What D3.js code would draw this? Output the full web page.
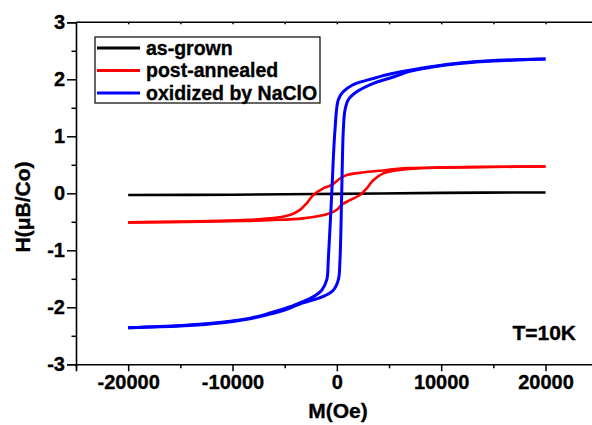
<!DOCTYPE html>
<html>
<head>
<meta charset="utf-8">
<script src="https://cdn.jsdelivr.net/npm/d3@7/dist/d3.min.js"></script>
<style>
  html, body { margin: 0; padding: 0; background: #fff; }
  text { font-family: "Liberation Sans", Arial, sans-serif; font-weight: bold; stroke: #000; stroke-width: 0.35px; }
</style>
</head>
<body>
<script>
var width = 592, height = 425;

// field (Oe) and moment values
var blackField = [-20000, -10000, 0, 10000, 20000];
var blackVal   = [-0.03, -0.025, -0.01, 0.008, 0.015];

var redDownField = [20000, 15000, 10000, 7000, 6050, 4130, 2220, 945, 300, -490, -1300, -2255, -2890, -3530, -4490, -6400, -9000, -13000, -20000];
var redDownVal   = [0.47, 0.465, 0.455, 0.445, 0.436, 0.395, 0.36, 0.32, 0.26, 0.146, 0.088, -0.03, -0.175, -0.29, -0.38, -0.44, -0.47, -0.49, -0.51];
var redUpField = [-20000, -13000, -9000, -6400, -3240, -656, 0, 465, 1260, 2220, 2860, 3490, 4450, 6050, 8000, 10000, 15000, 20000];
var redUpVal   = [-0.51, -0.5, -0.485, -0.47, -0.44, -0.35, -0.29, -0.2, -0.12, -0.03, 0.088, 0.23, 0.35, 0.41, 0.44, 0.45, 0.462, 0.47];

var blueDownField = [20000, 15000, 12000, 9000, 7000, 5000, 3000, 1500, 600, 140, -180, -490, -820, -970, -1450, -2500, -4500, -6400, -8300, -12000, -15000, -20000];
var blueDownVal   = [2.355, 2.33, 2.29, 2.22, 2.16, 2.09, 1.99, 1.90, 1.78, 1.64, 1.11, 0, -1.17, -1.52, -1.70, -1.84, -1.99, -2.10, -2.19, -2.28, -2.32, -2.36];
var blueUpField = [-20000, -15000, -12000, -8300, -6400, -5000, -3500, -1300, -340, 140, 300, 465, 620, 780, 1100, 1900, 3500, 5400, 7000, 9000, 12000, 15000, 20000];
var blueUpVal   = [-2.36, -2.33, -2.29, -2.20, -2.12, -2.05, -1.94, -1.81, -1.70, -1.52, -1.17, 0, 1.11, 1.46, 1.64, 1.78, 1.93, 2.04, 2.14, 2.21, 2.28, 2.32, 2.355];

var xTicks = [-20000, -10000, 0, 10000, 20000];
var yTicks = [-3, -2, -1, 0, 1, 2, 3];
var legendNames = ["as-grown", "post-annealed", "oxidized by NaClO"];
var colors = ["#000000", "#ff0000", "#0000ff"];

var svg = d3.select("body").append("svg")
  .attr("width", width)
  .attr("height", height);

var x = d3.scaleLinear().domain([-25000, 25000]).range([76, 597.7]);
var y = d3.scaleLinear().domain([-3, 3]).range([364.3, 22.3]);

var line = d3.line()
  .x(function(d) { return x(d[0]); })
  .y(function(d) { return y(d[1]); })
  .curve(d3.curveCatmullRom.alpha(0.5));

var zip = function(a, b) { return a.map(function(v, i) { return [v, b[i]]; }); };

var series = [
  { pts: zip(blackField, blackVal), c: colors[0], w: 2.6 },
  { pts: zip(redDownField, redDownVal), c: colors[1], w: 2.6 },
  { pts: zip(redUpField, redUpVal), c: colors[1], w: 2.6 },
  { pts: zip(blueDownField, blueDownVal), c: colors[2], w: 3 },
  { pts: zip(blueUpField, blueUpVal), c: colors[2], w: 3 }
];

svg.selectAll("path.curve").data(series).enter().append("path")
  .attr("class", "curve")
  .attr("d", function(d) { return line(d.pts); })
  .attr("fill", "none")
  .attr("stroke", function(d) { return d.c; })
  .attr("stroke-width", function(d) { return d.w; })
  .attr("stroke-linejoin", "round");

// plain hyphen for negatives, like the original
var fmt = function(d) { return String(d); };

// axes
var xAxis = svg.append("g").attr("transform", "translate(0," + y(-3) + ")")
  .call(d3.axisBottom(x).tickValues(xTicks).tickSize(7).tickFormat(fmt));
var xMinor = svg.append("g").attr("transform", "translate(0," + y(-3) + ")")
  .call(d3.axisBottom(x).tickValues([-25000, -15000, -5000, 5000, 15000]).tickSize(4).tickFormat(""));
var yAxis = svg.append("g").attr("transform", "translate(" + x(-25000) + ",0)")
  .call(d3.axisLeft(y).tickValues(yTicks).tickSize(9).tickFormat(fmt));
var yMinor = svg.append("g").attr("transform", "translate(" + x(-25000) + ",0)")
  .call(d3.axisLeft(y).tickValues([-2.5, -1.5, -0.5, 0.5, 1.5, 2.5]).tickSize(4.5).tickFormat(""));
var xTop = svg.append("g").attr("transform", "translate(0," + y(3) + ")")
  .call(d3.axisBottom(x).tickValues([-20000, -15000, -10000, -5000, 0, 5000, 10000, 15000, 20000]).tickSize(2).tickFormat(""));

[xAxis, xMinor, yAxis, yMinor, xTop].forEach(function(g) {
  g.select(".domain").attr("stroke-width", 1.6);
  g.selectAll(".tick line").attr("stroke-width", 1.5);
});
xMinor.select(".domain").remove();
yMinor.select(".domain").remove();
xTop.select(".domain").attr("d", "M" + x(-25000) + ",0H" + width);

xAxis.selectAll(".tick text")
  .attr("font-size", 20).attr("y", 11).attr("font-family", "Liberation Sans")
  .attr("font-weight", "bold").attr("fill", "#000");
yAxis.selectAll(".tick text")
  .attr("font-size", 20).attr("x", -11).attr("font-family", "Liberation Sans")
  .attr("font-weight", "bold").attr("fill", "#000");

svg.append("text")
  .attr("x", 338).attr("y", 418)
  .attr("text-anchor", "middle")
  .attr("font-size", 21)
  .text("M(Oe)");

svg.append("text")
  .attr("transform", "translate(30,207) rotate(-90)")
  .attr("text-anchor", "middle")
  .attr("font-size", 21)
  .text("H(\u03bcB/Co)");

svg.append("text")
  .attr("x", 576).attr("y", 340)
  .attr("text-anchor", "end")
  .attr("font-size", 21)
  .text("T=10K");

// legend
var legend = svg.append("g");
legend.append("rect")
  .attr("x", 95).attr("y", 37).attr("width", 225).attr("height", 66)
  .attr("fill", "#fff").attr("stroke", "#000").attr("stroke-width", 1.2);

var rows = legend.selectAll("g.row").data(legendNames).enter().append("g")
  .attr("class", "row")
  .attr("transform", function(d, i) { return "translate(0," + (48 + i * 22.5) + ")"; });
rows.append("line")
  .attr("x1", 97).attr("x2", 140).attr("y1", 0).attr("y2", 0)
  .attr("stroke", function(d, i) { return colors[i]; })
  .attr("stroke-width", 3);
rows.append("text")
  .attr("x", 146).attr("y", 6.5)
  .attr("font-size", 19.5)
  .text(function(d) { return d; });
</script>
</body>
</html>
